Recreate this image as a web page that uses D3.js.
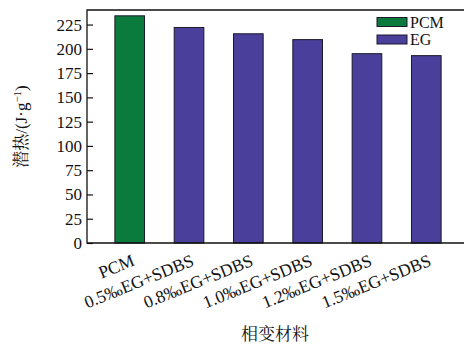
<!DOCTYPE html>
<html>
<head>
<meta charset="utf-8">
<script src="https://cdn.jsdelivr.net/npm/d3@7/dist/d3.min.js"></script>
<style>
  html, body { margin: 0; padding: 0; background: #fff; }
  svg { display: block; }
  text { font-family: "Liberation Serif", "Times New Roman", serif; fill: #111; }
  .cjk { font-family: "Noto Serif CJK SC", "Noto Sans CJK SC", sans-serif; }
</style>
</head>
<body>
<svg id="chart" width="464" height="345"></svg>
<script>
// Latent heat of the phase-change materials (J/g)
const categories = ["PCM", "0.5‰EG+SDBS", "0.8‰EG+SDBS", "1.0‰EG+SDBS", "1.2‰EG+SDBS", "1.5‰EG+SDBS"];
const series = ["PCM", "EG", "EG", "EG", "EG", "EG"];
const latentHeat = [234, 222, 215.5, 209.5, 195, 193];
const yTicks = [0, 25, 50, 75, 100, 125, 150, 175, 200, 225];
const legendItems = ["PCM", "EG"];
const colors = { PCM: "#0a7b3d", EG: "#4a3f9b" };

const svg = d3.select("#chart");
const plotLeft = 87, plotTop = 10, plotBottom = 243, plotRight = 469;

const x = d3.scaleBand()
  .domain(categories)
  .range([plotLeft, plotRight])
  .paddingInner(0.5)
  .paddingOuter(0.47);

const y = d3.scaleLinear().domain([0, 240]).range([plotBottom, plotTop]);

// bars
svg.append("g").selectAll("rect")
  .data(categories)
  .join("rect")
  .attr("x", d => x(d))
  .attr("width", x.bandwidth())
  .attr("y", (d, i) => y(latentHeat[i]))
  .attr("height", (d, i) => y(0) - y(latentHeat[i]))
  .attr("fill", (d, i) => colors[series[i]])
  .attr("stroke", "#1a1a2a")
  .attr("stroke-width", 1);

// frame (left, top, bottom)
svg.append("path")
  .attr("d", `M${plotRight},${plotTop}H${plotLeft}V${plotBottom}H${plotRight}`)
  .attr("fill", "none")
  .attr("stroke", "#111")
  .attr("stroke-width", 1.3);

// y axis with inward ticks
const yAxis = svg.append("g")
  .attr("transform", `translate(${plotLeft},0)`)
  .call(d3.axisRight(y).tickValues(yTicks).tickSize(6).tickSizeOuter(0));
yAxis.select(".domain").remove();
yAxis.selectAll(".tick line").attr("stroke", "#111").attr("stroke-width", 1.2);
yAxis.selectAll(".tick text")
  .attr("x", -5)
  .attr("text-anchor", "end")
  .style("font-family", "'Liberation Serif', serif")
  .style("font-size", "17px")
  .attr("fill", "#111");

// x category labels, rotated
svg.append("g").selectAll("text")
  .data(categories)
  .join("text")
  .attr("transform", d => `translate(${x(d) + x.bandwidth() / 2 + 6},${265}) rotate(-22)`)
  .attr("text-anchor", "end")
  .style("font-size", "17.5px")
  .text(d => d);

// axis titles
svg.append("text")
  .attr("class", "cjk")
  .attr("x", 275)
  .attr("y", 340)
  .attr("text-anchor", "middle")
  .style("font-size", "17px")
  .text("相变材料");

const yTitle = svg.append("text")
  .attr("transform", `translate(27,${(plotTop + plotBottom) / 2}) rotate(-90)`)
  .attr("text-anchor", "middle")
  .style("font-size", "17px");
yTitle.append("tspan").attr("class", "cjk").text("潜热");
yTitle.append("tspan").text("/(J·g");
yTitle.append("tspan").attr("dy", -6).style("font-size", "11px").text("−1");
yTitle.append("tspan").attr("dy", 6).text(")");

// legend
const legend = svg.append("g").selectAll("g")
  .data(legendItems)
  .join("g")
  .attr("transform", (d, i) => `translate(377,${17.5 + i * 17.5})`);
legend.append("rect")
  .attr("width", 30).attr("height", 9)
  .attr("fill", d => colors[d])
  .attr("stroke", "#1a1a2a").attr("stroke-width", 1);
legend.append("text")
  .attr("x", 33).attr("y", 10)
  .style("font-size", "16px")
  .text(d => d);
</script>
</body>
</html>
